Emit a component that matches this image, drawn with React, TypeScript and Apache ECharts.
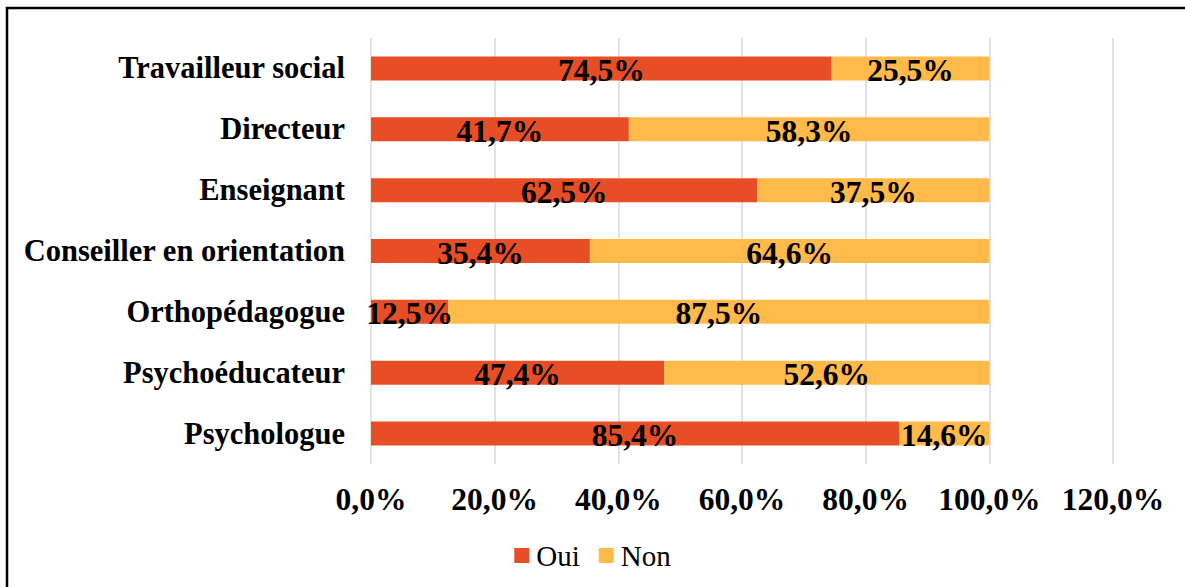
import React, { useEffect, useRef } from "react";
import * as echarts from "echarts";

const categories = [
  "Travailleur social",
  "Directeur",
  "Enseignant",
  "Conseiller en orientation",
  "Orthopédagogue",
  "Psychoéducateur",
  "Psychologue",
];
const oui = [74.5, 41.7, 62.5, 35.4, 12.5, 47.4, 85.4];
const non = [25.5, 58.3, 37.5, 64.6, 87.5, 52.6, 14.6];
const seriesNames = ["Oui", "Non"];

const FONT = "'Liberation Serif', 'Times New Roman', serif";
const fmt = (v: number) => v.toFixed(1).replace(".", ",") + "%";

export default function App() {
  const ref = useRef<HTMLDivElement>(null);
  useEffect(() => {
    if (!ref.current) return;
    const chart = echarts.init(ref.current, undefined, { renderer: "svg" });
    const label = {
      show: true,
      position: "inside" as const,
      color: "#000",
      fontFamily: FONT,
      fontWeight: "bold" as const,
      fontSize: 31.5,
      offset: [0, 2],
      formatter: (p: any) => fmt(p.value),
    };
    chart.setOption({
      animation: false,
      backgroundColor: "#fff",
      grid: { left: 371, right: 72, top: 38, bottom: 123, containLabel: false },
      legend: {
        data: seriesNames,
        top: 536,
        left: "center",
        itemWidth: 15,
        itemHeight: 15,
        itemGap: 19,
        icon: "rect",
        textStyle: { fontFamily: FONT, fontSize: 29, color: "#000", padding: [0, 0, 0, 2] },
      },
      xAxis: {
        type: "value",
        min: 0,
        max: 120,
        interval: 20,
        axisLine: { show: false },
        axisTick: { show: false },
        splitLine: { lineStyle: { color: "#D9D9D9", width: 1.5 } },
        axisLabel: {
          formatter: (v: number) => fmt(v),
          fontFamily: FONT,
          fontWeight: "bold",
          fontSize: 31.5,
          color: "#000",
          margin: 19,
        },
      },
      yAxis: {
        type: "category",
        data: categories,
        inverse: true,
        axisLine: { show: false },
        axisTick: { show: false },
        axisLabel: {
          fontFamily: FONT,
          fontWeight: "bold",
          fontSize: 30.5,
          color: "#000",
          margin: 26,
        },
      },
      series: [
        {
          name: seriesNames[0],
          type: "bar",
          stack: "total",
          data: oui,
          barWidth: 24,
          itemStyle: { color: "#E84E25" },
          label,
        },
        {
          name: seriesNames[1],
          type: "bar",
          stack: "total",
          data: non,
          barWidth: 24,
          itemStyle: { color: "#FFBA4A" },
          label,
        },
      ],
      graphic: [
        {
          type: "rect",
          shape: { x: 7, y: 8, width: 1400, height: 800 },
          style: { fill: "none", stroke: "#000", lineWidth: 2.5 },
          silent: true,
        },
      ],
    });
    return () => chart.dispose();
  }, []);
  return (
    <div style={{ position: "fixed", left: 0, top: 0, width: 1185, height: 587, background: "#fff" }}>
      <div ref={ref} style={{ width: 1185, height: 587 }} />
    </div>
  );
}
